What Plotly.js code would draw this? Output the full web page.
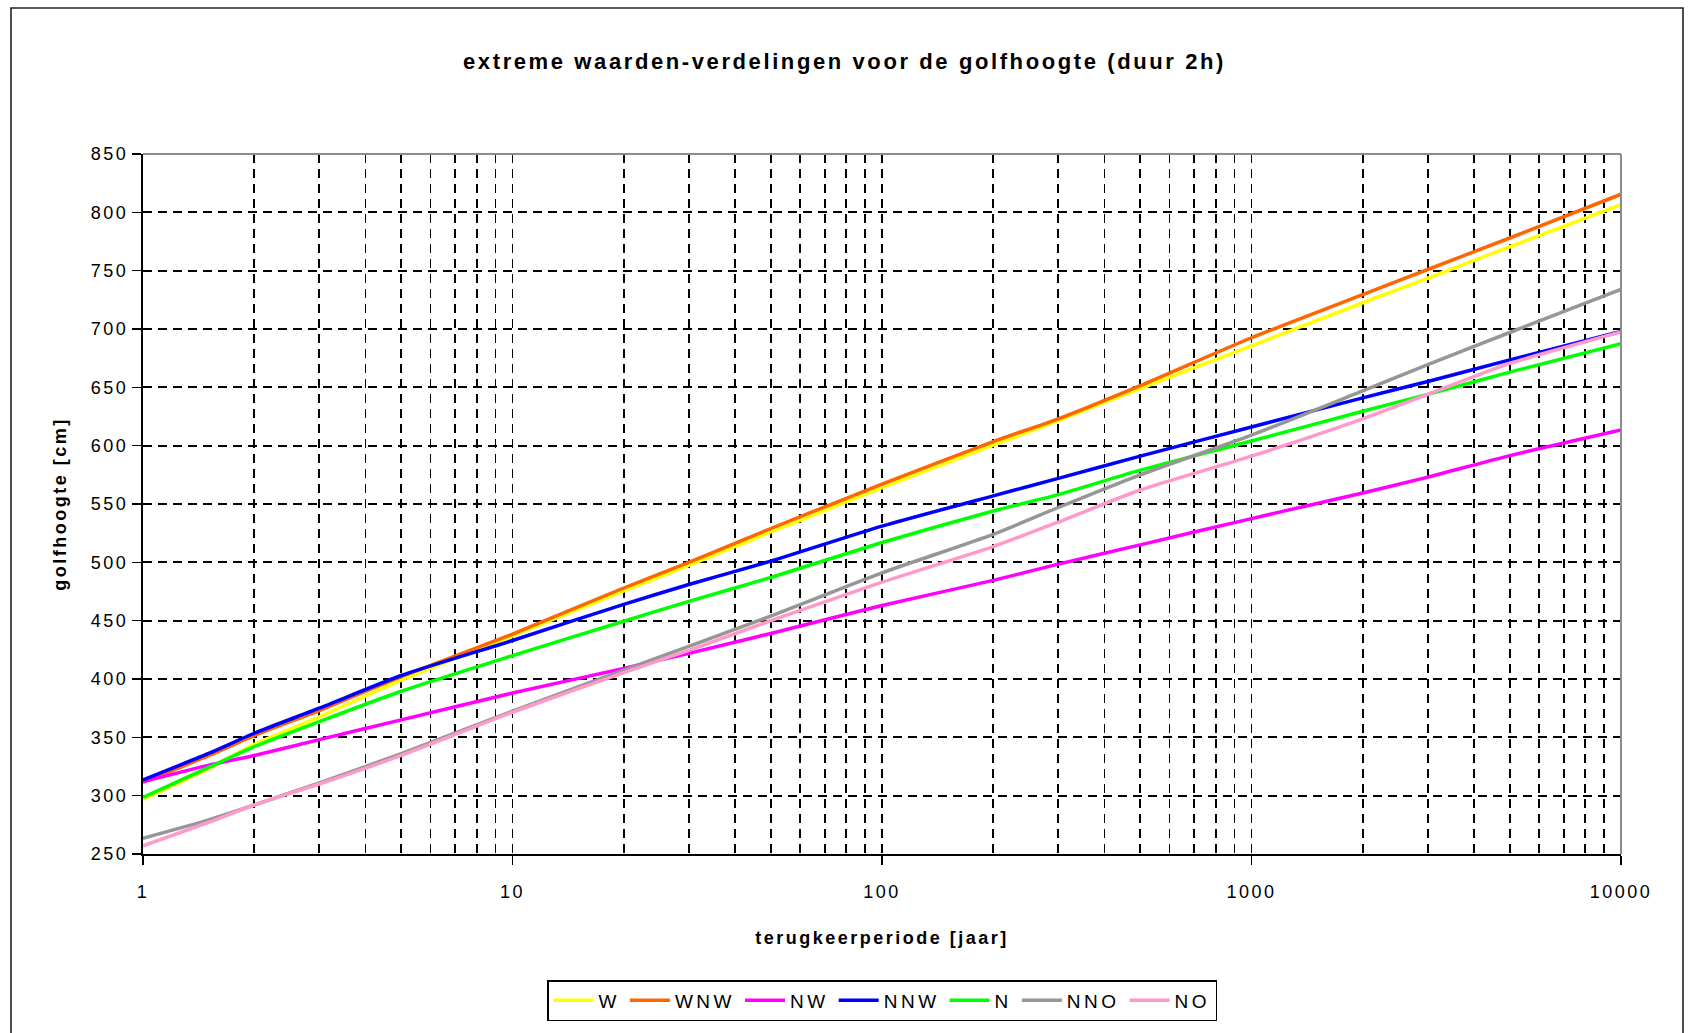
<!DOCTYPE html>
<html>
<head>
<meta charset="utf-8">
<script src="https://cdn.plot.ly/plotly-3.0.1.min.js"></script>
<style>
  html, body { margin: 0; padding: 0; background: #fff; }
  #chart { width: 1689px; height: 1033px; }
  /* wide-tracked lettering, also applied to Plotly's measuring node */
  text { letter-spacing: 2.5px; }
  text.gtitle { letter-spacing: 2.6px; }
  text.legendtext { letter-spacing: 3.5px; }
</style>
</head>
<body>
<div id="chart"></div>
<script>
// return period (years)
const terugkeerperiode = [1, 1.5, 2, 3, 5, 10, 20, 30, 50, 100, 200, 300, 500, 1000, 2000, 3000, 5000, 10000];

// wave height (cm) per wind direction
const W   = [297, 323, 344, 367.5, 399, 437, 475.5, 497.5, 526, 564, 600.5, 621.5, 649, 685.5, 722.5, 743.5, 770.5, 806.5];
const WNW = [311.5, 334, 351.5, 373, 402, 438.5, 478, 500, 529, 567, 603.5, 623, 651.5, 692.5, 729.5, 751, 778, 815.5];
const NW  = [312, 326, 334.5, 348, 365, 388, 409, 422, 439, 463, 484.5, 498.5, 515, 537.5, 559.5, 573, 591.5, 613.5];
const NNW = [313.5, 336, 353.5, 375, 403, 433, 464, 481, 501, 531, 557, 572, 591, 616, 641, 655, 673.5, 698];
const N   = [298.5, 324, 342, 363.5, 389.5, 420, 449.5, 466.5, 487, 517, 544, 558, 579, 604, 629.5, 644, 663, 687.5];
const NNO = [263.5, 279, 292, 311, 336, 372.5, 407.5, 428, 454, 491, 524, 547, 575, 609, 647, 669.5, 697, 734];
const NO  = [257, 277, 292, 310, 334.5, 371.5, 405.5, 424.5, 450, 483, 513.5, 534.5, 562, 591, 623, 644, 670.5, 697.5];

const seriesNames  = ['W', 'WNW', 'NW', 'NNW', 'N', 'NNO', 'NO'];
const seriesValues = [W, WNW, NW, NNW, N, NNO, NO];
const seriesColors = ['#FFFF00', '#FF6600', '#FF00FF', '#0000FF', '#00FF00', '#969696', '#FF99CC'];

const xTickVals = [1, 10, 100, 1000, 10000];
const xTickText = ['1', '10', '100', '1000', '10000'];

const FONT = 'Liberation Sans, Arial, sans-serif';

const traces = seriesNames.map((name, i) => ({
  type: 'scatter',
  mode: 'lines',
  name: name,
  x: terugkeerperiode,
  y: seriesValues[i],
  line: { color: seriesColors[i], width: 3.5, shape: 'spline', smoothing: 0.6 },
  hoverinfo: 'skip'
}));

const gridStyle = { gridcolor: '#000', griddash: '9px,6px', gridwidth: 1.7 };

const layout = {
  width: 1689,
  height: 1033,
  paper_bgcolor: '#fff',
  plot_bgcolor: '#fff',
  margin: { l: 143, r: 68, t: 154, b: 179 },
  font: { family: FONT, size: 18, color: '#000' },
  showlegend: true,
  hovermode: false,
  title: {
    text: 'extreme waarden-verdelingen voor de golfhoogte (duur 2h)',
    font: { family: FONT, size: 22, weight: 'bold', color: '#000' },
    x: 0.5, xref: 'container', xanchor: 'center',
    y: 1 - 61 / 1033, yref: 'container', yanchor: 'middle'
  },
  xaxis: Object.assign({
    type: 'log',
    range: [0, 4],
    tickvals: xTickVals,
    ticktext: xTickText,
    ticks: 'outside', ticklen: 9, tickwidth: 1.5, tickcolor: '#000',
    ticklabelstandoff: 11,
    showline: true, linecolor: '#000', linewidth: 2,
    showgrid: true,
    zeroline: false,
    tickfont: { family: FONT, size: 18, color: '#000' },
    minor: { dtick: 'D1', showgrid: true, gridcolor: '#000', griddash: '9px,6px', gridwidth: 1.7, ticks: '' },
    title: {
      text: 'terugkeerperiode [jaar]',
      font: { family: FONT, size: 18, weight: 'bold', color: '#000' },
      standoff: 31
    }
  }, gridStyle),
  yaxis: Object.assign({
    range: [250, 850],
    tick0: 250,
    dtick: 50,
    ticks: 'outside', ticklen: 9, tickwidth: 1.5, tickcolor: '#000',
    showline: true, linecolor: '#000', linewidth: 2,
    showgrid: true,
    zeroline: false,
    tickfont: { family: FONT, size: 18, color: '#000' },
    title: {
      text: 'golfhoogte [cm]',
      font: { family: FONT, size: 18, weight: 'bold', color: '#000' },
      standoff: 20
    }
  }, gridStyle),
  legend: {
    orientation: 'h',
    x: 0.5, xanchor: 'center', xref: 'paper',
    y: -0.18, yanchor: 'top', yref: 'paper',
    bordercolor: '#000', borderwidth: 1.5,
    bgcolor: '#fff',
    font: { family: FONT, size: 19, color: '#000' },
    traceorder: 'normal',
    itemwidth: 40
  },
  shapes: [
    // plot-area border, top and right sides
    { type: 'line', xref: 'paper', yref: 'paper', x0: 0, x1: 1, y0: 1, y1: 1, line: { color: '#8c8c8c', width: 2 } },
    { type: 'line', xref: 'paper', yref: 'paper', x0: 1, x1: 1, y0: 0, y1: 1, line: { color: '#8c8c8c', width: 2 } },
    // chart-area frame
    { type: 'rect', xref: 'paper', yref: 'paper',
      x0: (11 - 143) / 1478, x1: (1683 - 143) / 1478,
      y0: (854 - 1045) / 700, y1: (854 - 8) / 700,
      line: { color: '#222', width: 1.6 }, fillcolor: 'rgba(0,0,0,0)' }
  ]
};

Plotly.newPlot('chart', traces, layout, { staticPlot: true, displayModeBar: false });
</script>
</body>
</html>
